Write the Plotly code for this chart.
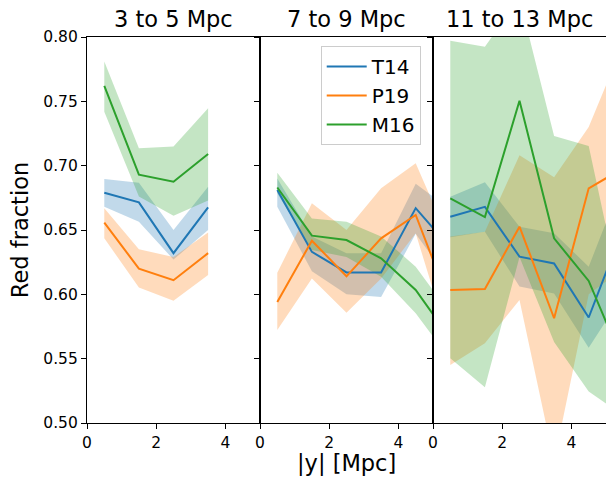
import plotly.graph_objects as go
from plotly.subplots import make_subplots

titles = ["3 to 5 Mpc", "7 to 9 Mpc", "11 to 13 Mpc"]
series = ["T14", "P19", "M16"]
colors = {"T14": (31, 119, 180), "P19": (255, 127, 14), "M16": (44, 160, 44)}

x1 = [0.5, 1.5, 2.5, 3.5]
x2 = [0.5, 1.5, 2.5, 3.5, 4.5, 5.5]
x3 = [0.5, 1.5, 2.5, 3.5, 4.5, 5.5]

# panel 1
p1_T14 = [0.679, 0.6715, 0.632, 0.6676]
p1_T14_hi = [0.6896, 0.6868, 0.650, 0.6837]
p1_T14_lo = [0.668, 0.6565, 0.627, 0.650]
p1_P19 = [0.6557, 0.620, 0.611, 0.632]
p1_P19_hi = [0.667, 0.635, 0.629, 0.648]
p1_P19_lo = [0.6435, 0.6054, 0.595, 0.615]
p1_M16 = [0.762, 0.693, 0.6875, 0.709]
p1_M16_hi = [0.781, 0.7135, 0.7148, 0.7446]
p1_M16_lo = [0.742, 0.676, 0.661, 0.673]

# panel 2
p2_T14 = [0.681, 0.633, 0.617, 0.617, 0.667, 0.636]
p2_T14_hi = [0.690, 0.645, 0.632, 0.632, 0.686, 0.666]
p2_T14_lo = [0.668, 0.618, 0.600, 0.598, 0.647, 0.610]
p2_P19 = [0.594, 0.6417, 0.614, 0.6435, 0.6617, 0.592]
p2_P19_hi = [0.6168, 0.6707, 0.650, 0.6824, 0.7018, 0.640]
p2_P19_lo = [0.5723, 0.6124, 0.5857, 0.6124, 0.6474, 0.560]
p2_M16 = [0.683, 0.6456, 0.6422, 0.628, 0.6034, 0.5655]
p2_M16_hi = [0.6945, 0.659, 0.6565, 0.645, 0.6215, 0.585]
p2_M16_lo = [0.6785, 0.6345, 0.629, 0.6137, 0.5853, 0.549]

# panel 3
p3_T14 = [0.6603, 0.668, 0.6293, 0.624, 0.582, 0.652]
p3_T14_hi = [0.6759, 0.6871, 0.6526, 0.6474, 0.6215, 0.690]
p3_T14_lo = [0.6443, 0.6487, 0.606, 0.6007, 0.5585, 0.600]
p3_P19 = [0.6034, 0.6041, 0.6526, 0.5814, 0.6824, 0.698]
p3_P19_hi = [0.645, 0.6487, 0.708, 0.691, 0.730, 0.795]
p3_P19_lo = [0.545, 0.562, 0.5956, 0.470, 0.600, 0.620]
p3_M16 = [0.6746, 0.660, 0.7505, 0.6435, 0.6104, 0.547]
p3_M16_hi = [0.797, 0.7925, 0.830, 0.723, 0.7153, 0.590]
p3_M16_lo = [0.5503, 0.5277, 0.629, 0.563, 0.5244, 0.506]

panels = [
    (x1, {"T14": (p1_T14, p1_T14_lo, p1_T14_hi), "P19": (p1_P19, p1_P19_lo, p1_P19_hi), "M16": (p1_M16, p1_M16_lo, p1_M16_hi)}),
    (x2, {"T14": (p2_T14, p2_T14_lo, p2_T14_hi), "P19": (p2_P19, p2_P19_lo, p2_P19_hi), "M16": (p2_M16, p2_M16_lo, p2_M16_hi)}),
    (x3, {"T14": (p3_T14, p3_T14_lo, p3_T14_hi), "P19": (p3_P19, p3_P19_lo, p3_P19_hi), "M16": (p3_M16, p3_M16_lo, p3_M16_hi)}),
]

FONT = "DejaVu Sans"
TICK = 15.5
LABEL = 22.5
fig = make_subplots(rows=1, cols=3, shared_yaxes=True, horizontal_spacing=0.0)

for i, (xs, data) in enumerate(panels):
    col = i + 1
    for s in series:
        r, g, b = colors[s]
        mid, lo, hi = data[s]
        fig.add_trace(go.Scatter(
            x=list(xs) + list(xs)[::-1], y=list(hi) + list(lo)[::-1],
            fill="toself", fillcolor=f"rgba({r},{g},{b},0.28)",
            line=dict(width=0), mode="lines", hoverinfo="skip", showlegend=False),
            row=1, col=col)
    for s in series:
        r, g, b = colors[s]
        mid, lo, hi = data[s]
        fig.add_trace(go.Scatter(
            x=xs, y=mid, mode="lines", name=s,
            line=dict(color=f"rgb({r},{g},{b})", width=2),
            showlegend=(i == 0)), row=1, col=col)

for i in range(3):
    fig.update_xaxes(range=[0, 5], tickvals=[0, 2, 4], ticks="outside", ticklen=5,
                     tickcolor="black", showline=True, linecolor="black", linewidth=1.2,
                     mirror=True, showgrid=False, zeroline=False,
                     tickfont=dict(family=FONT, size=TICK, color="black"), row=1, col=i + 1)
    fig.update_yaxes(range=[0.5, 0.8], tickvals=[0.5, 0.55, 0.6, 0.65, 0.7, 0.75, 0.8],
                     tickformat=".2f", ticks="outside", ticklen=5, tickcolor="black",
                     showline=True, linecolor="black", linewidth=1.2, mirror=True,
                     showgrid=False, zeroline=False,
                     tickfont=dict(family=FONT, size=TICK, color="black"), row=1, col=i + 1)

fig.update_yaxes(title_text="Red fraction", title_font=dict(family=FONT, size=LABEL, color="black"),
                 title_standoff=8, row=1, col=1)

annotations = []
for i, t in enumerate(titles):
    annotations.append(dict(text=t, x=(i + 0.5) / 3, y=1.0, xref="paper", yref="paper",
                            xanchor="center", yanchor="bottom", yshift=3, showarrow=False,
                            font=dict(family=FONT, size=LABEL, color="black")))
annotations.append(dict(text="|y| [Mpc]", x=0.5, y=0, xref="paper", yref="paper",
                        xanchor="center", yanchor="top", yshift=-25, showarrow=False,
                        font=dict(family=FONT, size=LABEL, color="black")))

fig.update_layout(
    width=606, height=480,
    margin=dict(l=87, r=0, t=37, b=57),
    paper_bgcolor="white", plot_bgcolor="white",
    annotations=annotations,
    legend=dict(x=0.643, y=0.977, xanchor="right", yanchor="top",
                bgcolor="rgba(255,255,255,0.8)", bordercolor="#cccccc", borderwidth=1,
                font=dict(family=FONT, size=20, color="black"), itemwidth=40),
    font=dict(family=FONT),
)

fig.write_html("out.html", config={"displayModeBar": False},
               post_script="document.body.style.margin='0';document.body.style.overflow='hidden';")
